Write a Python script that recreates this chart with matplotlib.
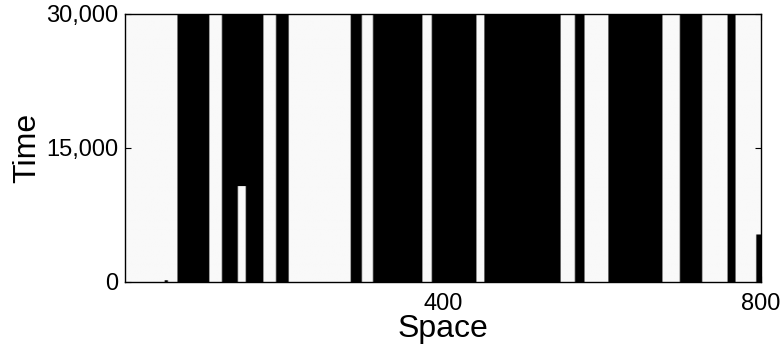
#! /usr/bin/env python3
import matplotlib.pyplot as plt
import numpy as np

plt.rcParams['font.family'] = ['Liberation Sans', 'DejaVu Sans']

space_max = 800
time_max = 30000
space_step = 2
time_step = 100

# white bands that last the whole run (space from, space to)
white_bands = [(0, 67), (106, 123), (175, 191), (207, 285), (298, 312),
               (375, 387), (443, 453), (549, 566), (579, 608), (677, 699),
               (727, 758), (769, 800)]
# white band that closes part way (from, to, until time)
short_white = [(142, 153, 10700)]
# small black patches inside white bands (from, to, until time)
short_black = [(50, 54, 250), (795, 800, 5300)]

x_ticks = [400, 800]
y_ticks = [0, 15000, 30000]
y_ticklabels = ['0', '15,000', '30,000']

white = 0.975
space = np.arange(0, space_max, space_step) + space_step / 2
time = np.arange(0, time_max, time_step) + time_step / 2
grid = np.zeros((len(time), len(space)))

for a, b in white_bands:
    grid[:, (space >= a) & (space < b)] = white
for a, b, t_end in short_white:
    grid[np.ix_(time < t_end, (space >= a) & (space < b))] = white
for a, b, t_end in short_black:
    grid[np.ix_(time < t_end, (space >= a) & (space < b))] = 0

fig = plt.figure(figsize=(7.8, 3.45), dpi=100)
ax = fig.add_axes([125 / 780, 63 / 345, 636 / 780, 268 / 345])
ax.imshow(grid, origin='lower', extent=[0, space_max, 0, time_max],
          aspect='auto', interpolation='bilinear', cmap='gray', vmin=0, vmax=1)

ax.set_xlim(0, space_max)
ax.set_ylim(0, time_max)
ax.set_xticks(x_ticks)
ax.set_yticks(y_ticks)
ax.set_yticklabels(y_ticklabels)
ax.tick_params(direction='in', length=4.5, width=0.8, labelsize=17,
               top=True, right=True, pad=5)
ax.tick_params(axis='x', pad=8)
for s in ax.spines.values():
    s.set_linewidth(1.0)

ax.set_xlabel('Space', fontsize=23, labelpad=-1)
ax.set_ylabel('Time', fontsize=23, labelpad=3)

plt.savefig('out.png', dpi=100)
